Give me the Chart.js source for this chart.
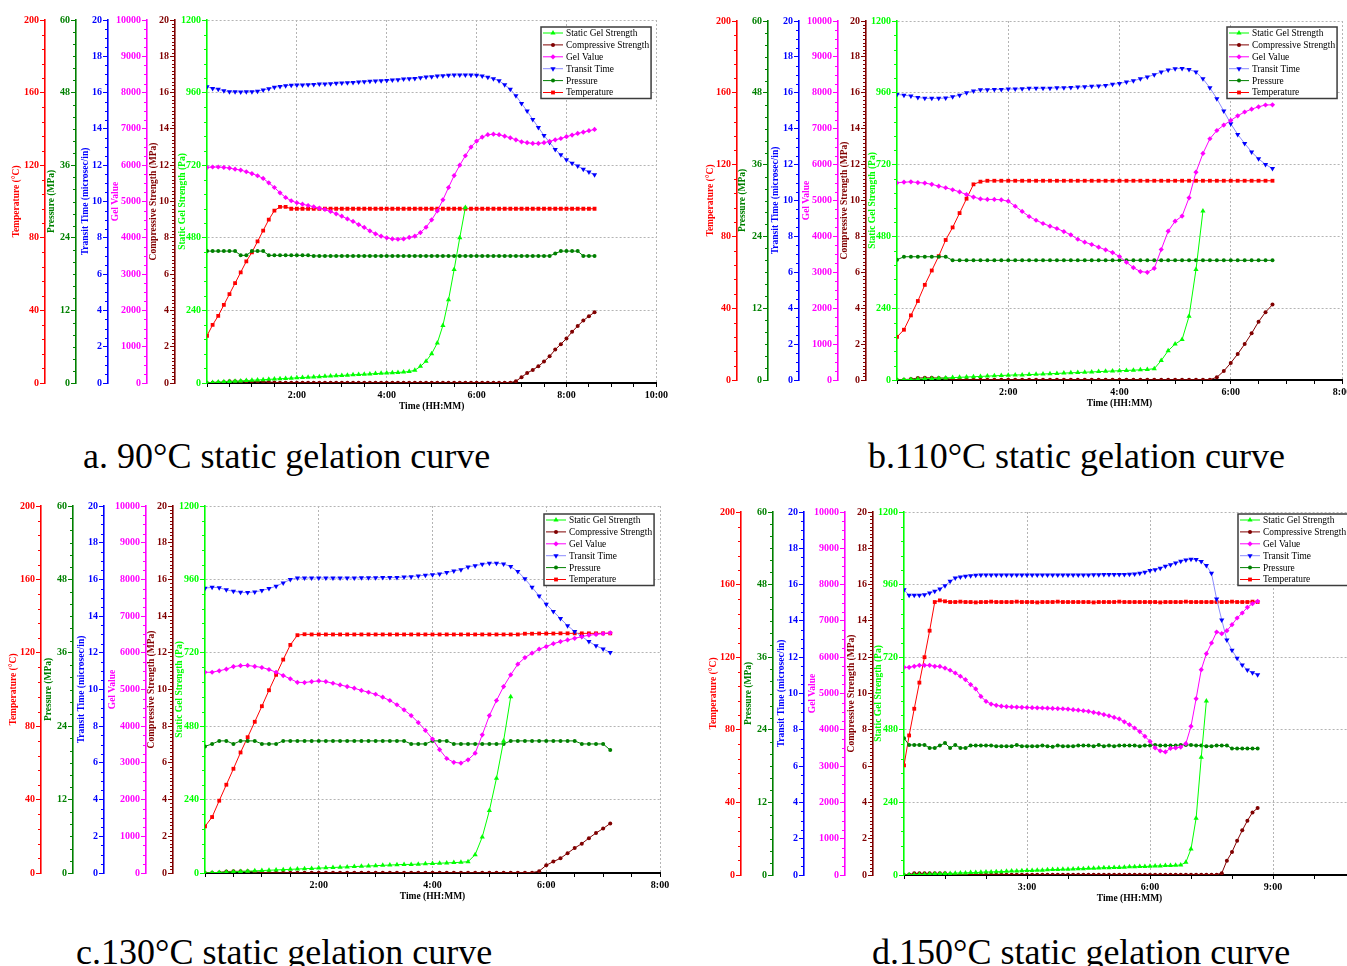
<!DOCTYPE html>
<html><head><meta charset="utf-8">
<script src="https://cdn.jsdelivr.net/npm/chart.js@4.4.1/dist/chart.umd.min.js"></script>
<style>
html,body{margin:0;padding:0;background:#fff;}
#page{position:relative;width:1347px;height:966px;overflow:hidden;background:#fff;}
#page canvas{position:absolute;}
.cap{position:absolute;font-family:"Liberation Serif","Times New Roman",serif;font-size:36px;line-height:36px;white-space:nowrap;color:#000;}
</style></head><body>
<div id="page">
<canvas id="cA" width="670" height="416" style="left:0px;top:0px"></canvas>
<canvas id="cB" width="662" height="413" style="left:692px;top:0px"></canvas>
<canvas id="cC" width="672" height="420" style="left:0px;top:486px"></canvas>
<canvas id="cD" width="667" height="416" style="left:700px;top:492px"></canvas>
<div class="cap" style="left:83px;top:438px">a. 90°C static gelation curve</div>
<div class="cap" style="left:868px;top:438px">b.110°C static gelation curve</div>
<div class="cap" style="left:76px;top:934px">c.130°C static gelation curve</div>
<div class="cap" style="left:872px;top:934px">d.150°C static gelation curve</div>
</div>
<script>
// ---------------- DATA (time in minutes) ----------------
const timesA = [0,7.5,15,22.5,30,37.5,45,52.5,60,67.5,75,82.5,90,97.5,105,112.5,120,127.5,135,142.5,150,157.5,165,172.5,180,187.5,195,202.5,210,217.5,225,232.5,240,247.5,255,262.5,270,277.5,285,292.5,300,307.5,315,322.5,330,337.5,345,352.5,360,367.5,375,382.5,390,397.5,405,412.5,420,427.5,435,442.5,450,457.5,465,472.5,480,487.5,495,502.5,510,517.5];
const tempA = [26,32,37,43,49,55,61,67,72,78,84,90,95,97,97,96,96,96,96,96,96,96,96,96,96,96,96,96,96,96,96,96,96,96,96,96,96,96,96,96,96,96,96,96,96,96,96,96,96,96,96,96,96,96,96,96,96,96,96,96,96,96,96,96,96,96,96,96,96,96];
const pressA = [21.8,21.8,21.8,21.8,21.8,21.8,21.1,21.1,21.8,21.8,21.8,21.1,21.1,21.1,21.1,21.1,21.1,21.1,21.1,21.0,21.0,21.0,21.0,21.0,21.0,21.0,21.0,21.0,21.0,21.0,21.0,21.0,21.0,21.0,21.0,21.0,21.0,21.0,21.0,21.0,21.0,21.0,21.0,21.0,21.0,21.0,21.0,21.0,21.0,21.0,21.0,21.0,21.0,21.0,21.0,21.0,21.0,21.0,21.0,21.0,21.0,21.0,21.4,21.8,21.8,21.8,21.8,21.0,21.0,21.0];
const transitA = [16.32,16.23,16.18,16.10,16.05,16.05,16.03,16.05,16.05,16.08,16.14,16.21,16.29,16.34,16.38,16.40,16.42,16.42,16.43,16.45,16.47,16.47,16.49,16.51,16.53,16.54,16.56,16.58,16.60,16.62,16.64,16.65,16.67,16.69,16.71,16.75,16.76,16.78,16.82,16.86,16.88,16.91,16.93,16.95,16.97,16.97,16.97,16.97,16.95,16.91,16.84,16.76,16.65,16.43,16.18,15.83,15.40,14.98,14.52,14.08,13.64,13.25,12.87,12.57,12.30,12.11,11.95,11.78,11.62,11.47];
const gelA = [5940,5950,5950,5940,5920,5890,5865,5820,5770,5710,5635,5515,5385,5240,5110,5020,4965,4925,4890,4855,4815,4780,4725,4660,4595,4520,4450,4365,4285,4190,4110,4045,4000,3970,3960,3970,4010,4045,4145,4290,4495,4740,5045,5385,5715,6000,6260,6500,6665,6775,6840,6855,6840,6800,6755,6700,6645,6620,6600,6600,6620,6655,6700,6735,6785,6830,6875,6910,6950,6985];
const sgsA = [0,2,3,4,5,6,7,8,9,10,11,12,13,14,15,16,17,18,19,20,21,22,23,24,25,26,27,28,29,30,31,32,33,34,35,36,38,42,55,72,97,132,190,275,375,480,580,null,null,null,null,null,null,null,null,null,null,null,null,null,null,null,null,null,null,null,null,null,null,null];
const compA = [0,0.02,0.03,0.05,0.09,0.09,0.09,0.09,0.09,0.08,0.08,0.05,0.03,0.02,0.02,0.02,0.02,0.02,0.02,0.02,0.02,0.02,0.02,0.02,0.02,0.02,0.02,0.02,0.02,0.02,0.02,0.02,0.02,0.02,0.02,0.02,0.02,0.02,0.02,0.02,0.02,0.02,0.02,0.02,0.02,0.02,0.02,0.02,0.02,0.02,0.02,0.02,0.02,0.02,0.02,0.1,0.32,0.55,0.72,0.92,1.18,1.47,1.84,2.14,2.45,2.82,3.14,3.44,3.68,3.90];

const timesB = [0,7.5,15,22.5,30,37.5,45,52.5,60,67.5,75,82.5,90,97.5,105,112.5,120,127.5,135,142.5,150,157.5,165,172.5,180,187.5,195,202.5,210,217.5,225,232.5,240,247.5,255,262.5,270,277.5,285,292.5,300,307.5,315,322.5,330,337.5,345,352.5,360,367.5,375,382.5,390,397.5,405];
const tempB = [24,28,36,44,53,61,69,78,85,93,101,109,110.5,111,111,111,111,111,111,111,111,111,111,111,111,111,111,111,111,111,111,111,111,111,111,111,111,111,111,111,111,111,111,111,111,111,111,111,111,111,111,111,111,111,111];
const pressB = [20.1,20.6,20.6,20.6,20.6,20.6,20.6,20.6,20.0,20.0,20.0,20.0,20.0,20.0,20.0,20.0,20.0,20.0,20.0,20.0,20.0,20.0,20.0,20.0,20.0,20.0,20.0,20.0,20.0,20.0,20.0,20.0,20.0,20.0,20.0,20.0,20.0,20.0,20.0,20.0,20.0,20.0,20.0,20.0,20.0,20.0,20.0,20.0,20.0,20.0,20.0,20.0,20.0,20.0,20.0];
const transitB = [15.91,15.87,15.82,15.74,15.69,15.69,15.69,15.71,15.78,15.87,16.00,16.10,16.17,16.17,16.19,16.19,16.21,16.21,16.23,16.25,16.25,16.26,16.26,16.28,16.28,16.30,16.32,16.34,16.36,16.38,16.41,16.47,16.52,16.60,16.67,16.78,16.88,17.01,17.16,17.27,17.34,17.36,17.30,17.16,16.78,16.28,15.67,14.98,14.28,13.68,13.18,12.70,12.32,12.01,11.78];
const gelB = [5495,5510,5520,5500,5485,5450,5400,5355,5300,5240,5165,5095,5045,5030,5030,5020,4980,4840,4695,4555,4450,4360,4285,4220,4135,4045,3920,3840,3775,3700,3625,3550,3440,3280,3130,3020,3000,3110,3635,4145,4425,4565,5075,5790,6310,6720,6950,7100,7230,7360,7465,7545,7610,7660,7665];
const sgsB = [0,1,2,3,4,5,6,7,8,9,10,11,12,13,14,15,16,17,17,18,19,20,21,22,23,24,25,26,27,28,29,30,31,32,33,34,35,38,65,98,120,135,213,369,565,null,null,null,null,null,null,null,null,null,null];
const compB = [0,0.02,0.05,0.11,0.12,0.12,0.11,0.10,0.02,0.02,0.02,0.02,0.02,0.02,0.02,0.02,0.02,0.02,0.02,0.02,0.02,0.02,0.02,0.02,0.02,0.02,0.02,0.02,0.02,0.02,0.02,0.02,0.02,0.02,0.02,0.02,0.02,0.02,0.02,0.02,0.02,0.02,0.02,0.02,0.02,0.02,0.15,0.5,0.95,1.45,2.0,2.6,3.25,3.78,4.2];

const timesC = [0,7.5,15,22.5,30,37.5,45,52.5,60,67.5,75,82.5,90,97.5,105,112.5,120,127.5,135,142.5,150,157.5,165,172.5,180,187.5,195,202.5,210,217.5,225,232.5,240,247.5,255,262.5,270,277.5,285,292.5,300,307.5,315,322.5,330,337.5,345,352.5,360,367.5,375,382.5,390,397.5,405,412.5,420,427.5];
const tempC = [25.4,30.5,39.4,48.1,56.8,65.7,74.0,82.4,90.9,99.6,108.0,116.3,124.3,129.6,130.1,130.0,130.0,130.0,130.0,130.0,130.0,130.0,130.0,130.0,130.0,130.0,130.0,130.0,130.0,130.0,130.0,130.0,130.0,130.0,130.0,130.0,130.0,130.0,130.0,130.0,130.0,130.0,130.0,130.0,130.0,130.4,130.4,130.5,130.5,130.5,130.6,130.6,130.6,130.6,130.6,130.6,130.6,130.6];
const pressC = [20.7,21.1,21.6,21.6,21.1,21.6,21.6,21.6,21.1,21.1,21.1,21.6,21.6,21.6,21.6,21.6,21.6,21.6,21.6,21.6,21.6,21.6,21.6,21.6,21.6,21.6,21.6,21.6,21.6,21.1,21.1,21.1,21.6,21.6,21.6,21.1,21.1,21.1,21.1,21.1,21.1,21.1,21.1,21.6,21.6,21.6,21.6,21.6,21.6,21.6,21.6,21.6,21.6,21.1,21.1,21.1,21.1,20.1];
const transitC = [15.52,15.57,15.55,15.43,15.35,15.30,15.28,15.32,15.39,15.50,15.63,15.81,15.99,16.08,16.08,16.08,16.08,16.08,16.08,16.08,16.08,16.08,16.09,16.09,16.09,16.10,16.10,16.10,16.13,16.15,16.19,16.23,16.26,16.30,16.37,16.46,16.53,16.68,16.75,16.82,16.88,16.88,16.84,16.70,16.43,16.03,15.57,15.10,14.65,14.25,13.87,13.48,13.16,12.89,12.61,12.38,12.21,12.01];
const gelC = [5470,5470,5510,5555,5625,5650,5655,5630,5600,5545,5470,5380,5290,5195,5190,5215,5235,5215,5170,5125,5080,5035,4975,4925,4870,4790,4700,4585,4445,4290,4100,3885,3650,3360,3120,3015,2995,3085,3265,3765,4290,4700,5080,5400,5690,5870,5990,6100,6170,6250,6305,6350,6395,6440,6480,6500,6525,6545];
const sgsC = [0,1,2,3,4,5,6,7,8,9,10,11,12,13,14,15,16,17,18,19,20,21,22,23,24,25,26,27,28,28,29,30,31,32,33,34,35,37,60,118,204,310,432,576,null,null,null,null,null,null,null,null,null,null,null,null,null,null];
const compC = [0,0.02,0.03,0.08,0.09,0.09,0.09,0.07,0.04,0.02,0.02,0.02,0.02,0.02,0.02,0.02,0.02,0.02,0.02,0.02,0.02,0.02,0.02,0.02,0.02,0.02,0.02,0.02,0.02,0.02,0.02,0.02,0.02,0.02,0.02,0.02,0.02,0.02,0.02,0.02,0.02,0.02,0.02,0.02,0.02,0.02,0.02,0.1,0.42,0.62,0.8,1.08,1.36,1.6,1.9,2.18,2.42,2.7];

const timesD = [0,7.5,15,22.5,30,37.5,45,52.5,60,67.5,75,82.5,90,97.5,105,112.5,120,127.5,135,142.5,150,157.5,165,172.5,180,187.5,195,202.5,210,217.5,225,232.5,240,247.5,255,262.5,270,277.5,285,292.5,300,307.5,315,322.5,330,337.5,345,352.5,360,367.5,375,382.5,390,397.5,405,412.5,420,427.5,435,442.5,450,457.5,465,472.5,480,487.5,495,502.5,510,517.5];
const tempD = [60.4,76.9,91.6,106,120,134.6,150.4,151.3,150.8,150.4,150.4,150.6,150.4,150.4,150.2,150.4,150.4,150.6,150.4,150.4,150.4,150.4,150.6,150.4,150.4,150.4,150.2,150.4,150.4,150.4,150.6,150.4,150.4,150.4,150.4,150.4,150.4,150.2,150.4,150.4,150.4,150.4,150.6,150.4,150.4,150.4,150.4,150.4,150.4,150.4,150.2,150.4,150.4,150.4,150.4,150.6,150.4,150.4,150.4,150.4,150.4,150.4,150.4,150.4,150.6,150.4,150.4,150.4,150.6,150.4];
const pressD = [22.6,21.5,21.5,21.5,21.5,21.0,21.0,21.4,21.8,21.0,21.5,21.0,21.0,21.4,21.4,21.4,21.4,21.4,21.3,21.3,21.3,21.3,21.5,21.3,21.3,21.3,21.3,21.4,21.3,21.2,21.4,21.3,21.3,21.3,21.4,21.4,21.4,21.3,21.5,21.3,21.4,21.3,21.4,21.4,21.4,21.4,21.3,21.4,21.4,21.5,21.4,21.4,21.4,21.4,21.5,21.5,21.5,21.4,21.4,21.3,21.3,21.4,21.4,21.4,20.9,20.9,20.9,20.9,20.9,20.9];
const transitD = [15.72,15.41,15.41,15.42,15.44,15.54,15.63,15.76,15.94,16.18,16.36,16.42,16.46,16.49,16.51,16.53,16.53,16.53,16.53,16.53,16.53,16.53,16.53,16.53,16.53,16.53,16.53,16.53,16.53,16.53,16.53,16.53,16.53,16.53,16.53,16.53,16.53,16.54,16.54,16.55,16.55,16.55,16.56,16.56,16.57,16.58,16.62,16.68,16.77,16.82,16.90,17.01,17.10,17.19,17.28,17.36,17.39,17.38,17.27,17.05,16.62,15.20,14.05,12.95,12.38,11.94,11.57,11.30,11.15,11.03];
const gelD = [5720,5720,5750,5775,5775,5775,5750,5745,5700,5640,5565,5475,5380,5245,5125,4920,4785,4710,4675,4650,4640,4630,4625,4620,4615,4610,4605,4600,4595,4590,4585,4580,4570,4555,4540,4525,4510,4480,4455,4420,4385,4340,4300,4220,4140,4050,3950,3820,3680,3500,3420,3390,3490,3500,3525,3620,4096,4858,5657,6097,6391,6694,6648,6731,6896,7080,7218,7374,7475,7540];
const sgsD = [0,1,1,2,2,3,4,4,5,5,6,7,7,8,8,9,10,10,11,11,12,13,13,14,15,15,16,16,17,18,18,19,19,20,21,21,22,22,23,24,24,25,25,26,27,27,28,28,29,30,30,31,31,32,33,42,86,188,389,575,null,null,null,null,null,null,null,null,null,null];
const compD = [0,0.03,0.09,0.09,0.09,0.09,0.09,0.09,0.09,0.05,0.02,0.02,0.02,0.02,0.02,0.02,0.02,0.02,0.02,0.02,0.02,0.02,0.02,0.02,0.02,0.02,0.02,0.02,0.02,0.02,0.02,0.02,0.02,0.02,0.02,0.02,0.02,0.02,0.02,0.02,0.02,0.02,0.02,0.02,0.02,0.02,0.02,0.02,0.02,0.02,0.02,0.02,0.02,0.02,0.02,0.02,0.02,0.02,0.02,0.02,0.02,0.02,0.1,0.79,1.27,1.89,2.46,2.99,3.45,3.69];

// ---------------- STYLE / LAYOUT ----------------
const FONT = '"Liberation Serif","Times New Roman",serif';
const GRID = '#b4b4b4';
const NONE = 'rgba(0,0,0,0)';
// y axes, listed from the one nearest the plot outwards; slot = index in panel.lines (0 = leftmost)
const Y_AXES = [
  {id:'ySgs', slot:5, title:'Static Gel Strength (Pa)', color:'#00ff00', max:1200, step:240, minor:48},
  {id:'yComp', slot:4, title:'Compressive Strength (MPa)', color:'#800000', max:20, step:2, minor:0.2},
  {id:'yGel', slot:3, title:'Gel Value', color:'#ff00ff', max:10000, step:1000, minor:250},
  {id:'yTransit', slot:2, title:'Transit Time (microsec/in)', color:'#0000ff', max:20, step:2, minor:0.5},
  {id:'yPress', slot:1, title:'Pressure (MPa)', color:'#008000', max:60, step:12, minor:2},
  {id:'yTemp', slot:0, title:'Temperature (°C)', color:'#ff0000', max:200, step:40, minor:8}
];
const SERIES = [
  {key:'sgs', label:'Static Gel Strength', axis:'ySgs', line:'#00ff00', mark:'#00ff00', style:'triangle', rot:0, r:3},
  {key:'comp', label:'Compressive Strength', axis:'yComp', line:'#800000', mark:'#800000', style:'circle', rot:0, r:2},
  {key:'gel', label:'Gel Value', axis:'yGel', line:'#ff00ff', mark:'#ff00ff', style:'rectRot', rot:0, r:2.6},
  {key:'transit', label:'Transit Time', axis:'yTransit', line:'#8c8cff', mark:'#0000ff', style:'triangle', rot:180, r:3},
  {key:'press', label:'Pressure', axis:'yPress', line:'#008000', mark:'#008000', style:'circle', rot:0, r:2},
  {key:'temp', label:'Temperature', axis:'yTemp', line:'#ff0000', mark:'#ff0000', style:'rect', rot:0, r:2.7}
];
const PANELS = [
  {canvas:'cA', times:timesA, sgs:sgsA, comp:compA, gel:gelA, transit:transitA, press:pressA, temp:tempA,
   left:0, pad:{top:20,right:13,bottom:3}, lines:[45,76,108,147,175,207], titles:[17,52,86,116,154,183],
   xMax:600, xStep:30, xMajor:120, legend:{x:541,y:27}},
  {canvas:'cB', times:timesB, sgs:sgsB, comp:compB, gel:gelB, transit:transitB, press:pressB, temp:tempB,
   left:692, pad:{top:21,right:12,bottom:3}, lines:[737,768,799,838,866,897], titles:[711,743,776,807,845,873],
   xMax:480, xStep:30, xMajor:120, legend:{x:535,y:27}},
  {canvas:'cC', times:timesC, sgs:sgsC, comp:compC, gel:gelC, transit:transitC, press:pressC, temp:tempC,
   left:0, pad:{top:20,right:12,bottom:3}, lines:[41,73,104,146,173,205], titles:[14,49,82,113,152,180],
   xMax:480, xStep:30, xMajor:120, legend:{x:544,y:28}},
  {canvas:'cD', times:timesD, sgs:sgsD, comp:compD, gel:gelD, transit:transitD, press:pressD, temp:tempD,
   left:700, pad:{top:20,right:12,bottom:3}, lines:[741,773,804,845,873,904], titles:[714,749,782,813,852,879],
   xMax:660, xStep:60, xMajor:180, legend:{x:538,y:22}}
];

function hm(v){ const h = Math.floor(v/60), m = Math.round(v - h*60); return h + ':' + (m < 10 ? '0' : '') + m; }

function drawMarker(ctx, style, rot, r, x, y, color){
  ctx.save(); ctx.fillStyle = color; ctx.beginPath();
  if (style === 'circle') { ctx.arc(x, y, r, 0, Math.PI*2); }
  else if (style === 'rect') { const s = r*Math.SQRT1_2; ctx.rect(x-s, y-s, 2*s, 2*s); }
  else if (style === 'rectRot') { ctx.moveTo(x-r,y); ctx.lineTo(x,y-r); ctx.lineTo(x+r,y); ctx.lineTo(x,y+r); ctx.closePath(); }
  else if (style === 'triangle') {
    let a = rot*Math.PI/180;
    ctx.moveTo(x + Math.sin(a)*r, y - Math.cos(a)*r);
    a += 2*Math.PI/3; ctx.lineTo(x + Math.sin(a)*r, y - Math.cos(a)*r);
    a += 2*Math.PI/3; ctx.lineTo(x + Math.sin(a)*r, y - Math.cos(a)*r);
    ctx.closePath();
  }
  ctx.fill(); ctx.restore();
}

const minorTicks = {
  id:'minorTicks',
  afterDraw(chart){
    const ctx = chart.ctx;
    Y_AXES.forEach(ax => {
      const s = chart.scales[ax.id]; if (!s) return;
      ctx.save(); ctx.strokeStyle = ax.color; ctx.lineWidth = 1;
      const n = Math.round(ax.max/ax.minor);
      for (let k = 0; k <= n; k++) {
        const v = k*ax.minor, q = v/ax.step;
        if (Math.abs(q - Math.round(q)) < 1e-6) continue;
        const y = Math.round(s.getPixelForValue(v)) + 0.5;
        ctx.beginPath(); ctx.moveTo(s.right - 3, y); ctx.lineTo(s.right, y); ctx.stroke();
      }
      ctx.restore();
    });
  }
};

const boxLegend = {
  id:'boxLegend',
  afterDraw(chart, args, opts){
    const ctx = chart.ctx;
    const ds = chart.data.datasets;
    ctx.save();
    ctx.font = '9.4px ' + FONT;
    const tw = Math.max(...ds.map(d => ctx.measureText(d.label).width));
    const x0 = opts.x, y0 = opts.y, rowH = 11.9;
    const w = 25 + tw + 2, h = rowH*(ds.length-1) + 12;
    ctx.fillStyle = '#fff'; ctx.fillRect(x0, y0, w, h);
    ctx.strokeStyle = '#3c3c3c'; ctx.lineWidth = 1.5; ctx.strokeRect(x0, y0, w, h);
    ds.forEach((d, i) => {
      const y = y0 + 6 + i*rowH;
      ctx.strokeStyle = d.borderColor; ctx.lineWidth = 1;
      ctx.beginPath(); ctx.moveTo(x0+2, y); ctx.lineTo(x0+22, y); ctx.stroke();
      drawMarker(ctx, d.pointStyle, d.pointRotation, d.pointRadius, x0+12, y, d.pointBackgroundColor);
      ctx.fillStyle = '#000'; ctx.textBaseline = 'middle'; ctx.textAlign = 'left';
      ctx.fillText(d.label, x0+25, y+0.5);
    });
    ctx.restore();
  }
};

function buildPanel(p){
  const scales = {};
  scales.x = {
    type:'linear', position:'bottom', min:0, max:p.xMax,
    afterFit: s => { s.height = 30; },
    ticks:{stepSize:p.xStep, autoSkip:false, maxRotation:0, color:'#000', padding:2,
      font:{family:FONT, size:10, weight:'bold'},
      callback: v => (v > 0 && v % p.xMajor === 0) ? hm(v) : ''},
    grid:{display:true, drawOnChartArea:true, drawTicks:true, tickLength:4, tickColor:'#000', tickWidth:1, lineWidth:1,
      color: c => (c.tick && c.tick.value > 0 && c.tick.value % p.xMajor === 0) ? GRID : NONE},
    border:{display:true, color:'#000', width:2, dash:[2,2]},
    title:{display:true, text:'Time (HH:MM)', color:'#000', font:{family:FONT, size:9.5, weight:'bold'}, padding:{top:0,bottom:1}}
  };
  Y_AXES.forEach(ax => {
    const k = ax.slot;
    const boxLeft = k === 0 ? p.left : p.lines[k-1];
    const boxW = p.lines[k] - boxLeft;
    const tPad = p.titles[k] - boxLeft - 5.7;
    const primary = ax.id === 'ySgs';
    scales[ax.id] = {
      type:'linear', position:'left', min:0, max:ax.max,
      afterFit: s => { s.width = boxW; },
      ticks:{stepSize:ax.step, autoSkip:false, color:ax.color, padding:1,
        font:{family:FONT, size:10, weight:'bold'}, callback: v => String(v)},
      grid:{display:true, drawOnChartArea:primary, drawTicks:true, tickLength:5, tickColor:ax.color, tickWidth:1, lineWidth:1,
        color: primary ? (c => (c.tick && c.tick.value > 0) ? GRID : NONE) : NONE},
      border:{display:true, color:ax.color, width:1.6, dash:[2,2]},
      title:{display:true, text:ax.title, color:ax.color, font:{family:FONT, size:9.5, weight:'bold'}, padding:{top:tPad, bottom:0}}
    };
  });
  const datasets = SERIES.map(s => ({
    label:s.label, yAxisID:s.axis, xAxisID:'x',
    data: p.times.map((t, i) => ({x:t, y:p[s.key][i]})),
    borderColor:s.line, backgroundColor:s.mark, borderWidth:1, tension:0, fill:false, spanGaps:false,
    pointStyle:s.style, pointRotation:s.rot, pointRadius:s.r, pointBorderWidth:0,
    pointBackgroundColor:s.mark, pointBorderColor:s.mark
  }));
  new Chart(document.getElementById(p.canvas), {
    type:'line',
    data:{datasets},
    options:{
      responsive:false, animation:false, devicePixelRatio:1,
      layout:{padding:{left:0, top:p.pad.top, right:p.pad.right, bottom:p.pad.bottom}},
      plugins:{legend:{display:false}, tooltip:{enabled:false}, boxLegend:{x:p.legend.x, y:p.legend.y}},
      scales
    },
    plugins:[minorTicks, boxLegend]
  });
}
PANELS.forEach(buildPanel);
</script>
</body></html>
